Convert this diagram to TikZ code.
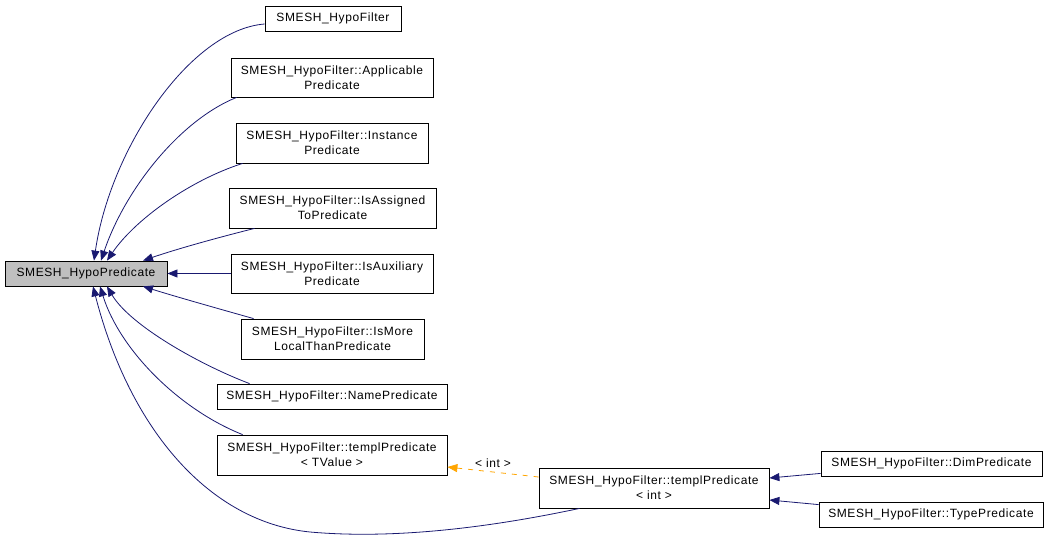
\documentclass[tikz,border=0pt]{standalone}
\usepackage{fontspec}
\setmainfont{Liberation Sans}[LetterSpace=5]
\usepackage{tikz}
\usetikzlibrary{arrows.meta,calc}
\definecolor{edgeblue}{HTML}{191970}
\definecolor{tmplorange}{HTML}{FFA500}
\definecolor{basegray}{HTML}{BFBFBF}

\begin{document}
\begin{tikzpicture}[x=1pt,y=-1pt,
  cls/.style={draw,line width=0.8pt,align=center,inner sep=0pt,
    font=\fontsize{12}{15}\selectfont},
  inh/.style={edgeblue,line width=0.8pt,-{Triangle[length=10pt,width=8pt]}},
  tmpl/.style={tmplorange,line width=0.8pt,dash pattern=on 5pt off 6pt,
    -{Triangle[length=10pt,width=8pt]}}]
  \useasboundingbox (0,0) rectangle (1049,537);
  % base class
  \node[cls,fill=basegray,minimum width=162pt,minimum height=25pt] (main) at (86,273.5) {SMESH\_HypoPredicate};
  % derived classes
  \node[cls,minimum width=136pt,minimum height=25pt] (filt) at (333,18.5) {SMESH\_HypoFilter};
  \node[cls,minimum width=202pt,minimum height=39pt] (applic) at (332,77.5) {SMESH\_HypoFilter::Applicable\\Predicate};
  \node[cls,minimum width=192pt,minimum height=40pt] (inst) at (332,143) {SMESH\_HypoFilter::Instance\\Predicate};
  \node[cls,minimum width=207pt,minimum height=40pt] (assigned) at (332.5,208) {SMESH\_HypoFilter::IsAssigned\\ToPredicate};
  \node[cls,minimum width=202pt,minimum height=39pt] (auxil) at (332,273.5) {SMESH\_HypoFilter::IsAuxiliary\\Predicate};
  \node[cls,minimum width=183pt,minimum height=40pt] (more) at (332.5,339) {SMESH\_HypoFilter::IsMore\\LocalThanPredicate};
  \node[cls,minimum width=230pt,minimum height=25pt] (namep) at (332,396.5) {SMESH\_HypoFilter::NamePredicate};
  \node[cls,minimum width=230pt,minimum height=40pt] (tvalue) at (332,455) {SMESH\_HypoFilter::templPredicate\\< TValue >};
  \node[cls,minimum width=230pt,minimum height=40pt] (tint) at (654,488) {SMESH\_HypoFilter::templPredicate\\< int >};
  \node[cls,minimum width=221pt,minimum height=25pt] (dimp) at (931.5,463.5) {SMESH\_HypoFilter::DimPredicate};
  \node[cls,minimum width=224pt,minimum height=25pt] (typep) at (931,514.5) {SMESH\_HypoFilter::TypePredicate};
  \coordinate (dip) at (310,532);

  % inheritance edges, top half
  \draw[inh] ($(filt.west)+(0,5.5)$) .. controls +(-75,6) and +(16,-111) .. ($(main.north)+(8,0)$);
  \draw[inh] ($(applic.south west)+(6,0)$) .. controls +(-57,23) and +(24,-71) .. ($(main.north)+(15,0)$);
  \draw[inh] ($(inst.south west)+(7,0)$) .. controls +(-53,17) and +(28,-41) .. ($(main.north)+(21,0)$);
  \draw[inh] ($(assigned.south west)+(26,0)$) .. controls +(-40,10) and +(32,-11) .. ($(main.north)+(57,0)$);
  \draw[inh] (auxil.west) -- (main.east);
  % inheritance edges, bottom half
  \draw[inh] ($(more.north west)+(13,0)$) .. controls +(-39,-11) and +(32,10) .. ($(main.south)+(57,0)$);
  \draw[inh] ($(namep.north west)+(33,0)$) .. controls +(-50,-19) and +(23,39) .. ($(main.south)+(21,0)$);
  \draw[inh] ($(tvalue.north west)+(26,0)$) .. controls +(-63,-25) and +(20,64) .. ($(main.south)+(14,0)$);
  \draw[inh] ($(tint.south west)+(41,0)$) .. controls +(-80,17) and +(90,8) .. (dip)
    .. controls +(-100,-10) and +(37,144) .. ($(main.south)+(7,0)$);
  % edges into templPredicate<int>
  \draw[inh] ($(dimp.south west)+(0,-3)$) -- ($(tint.east)+(0,-10)$);
  \draw[inh] ($(typep.north west)+(0,3)$) -- ($(tint.east)+(0,12)$);
  % template instance
  \draw[tmpl] ($(tint.west)+(0,-11)$) -- ($(tvalue.east)+(0,12)$)
    node[midway,above=1pt,font=\fontsize{12}{15}\selectfont,text=black] (intlabel) {< int >};
\end{tikzpicture}
\end{document}
